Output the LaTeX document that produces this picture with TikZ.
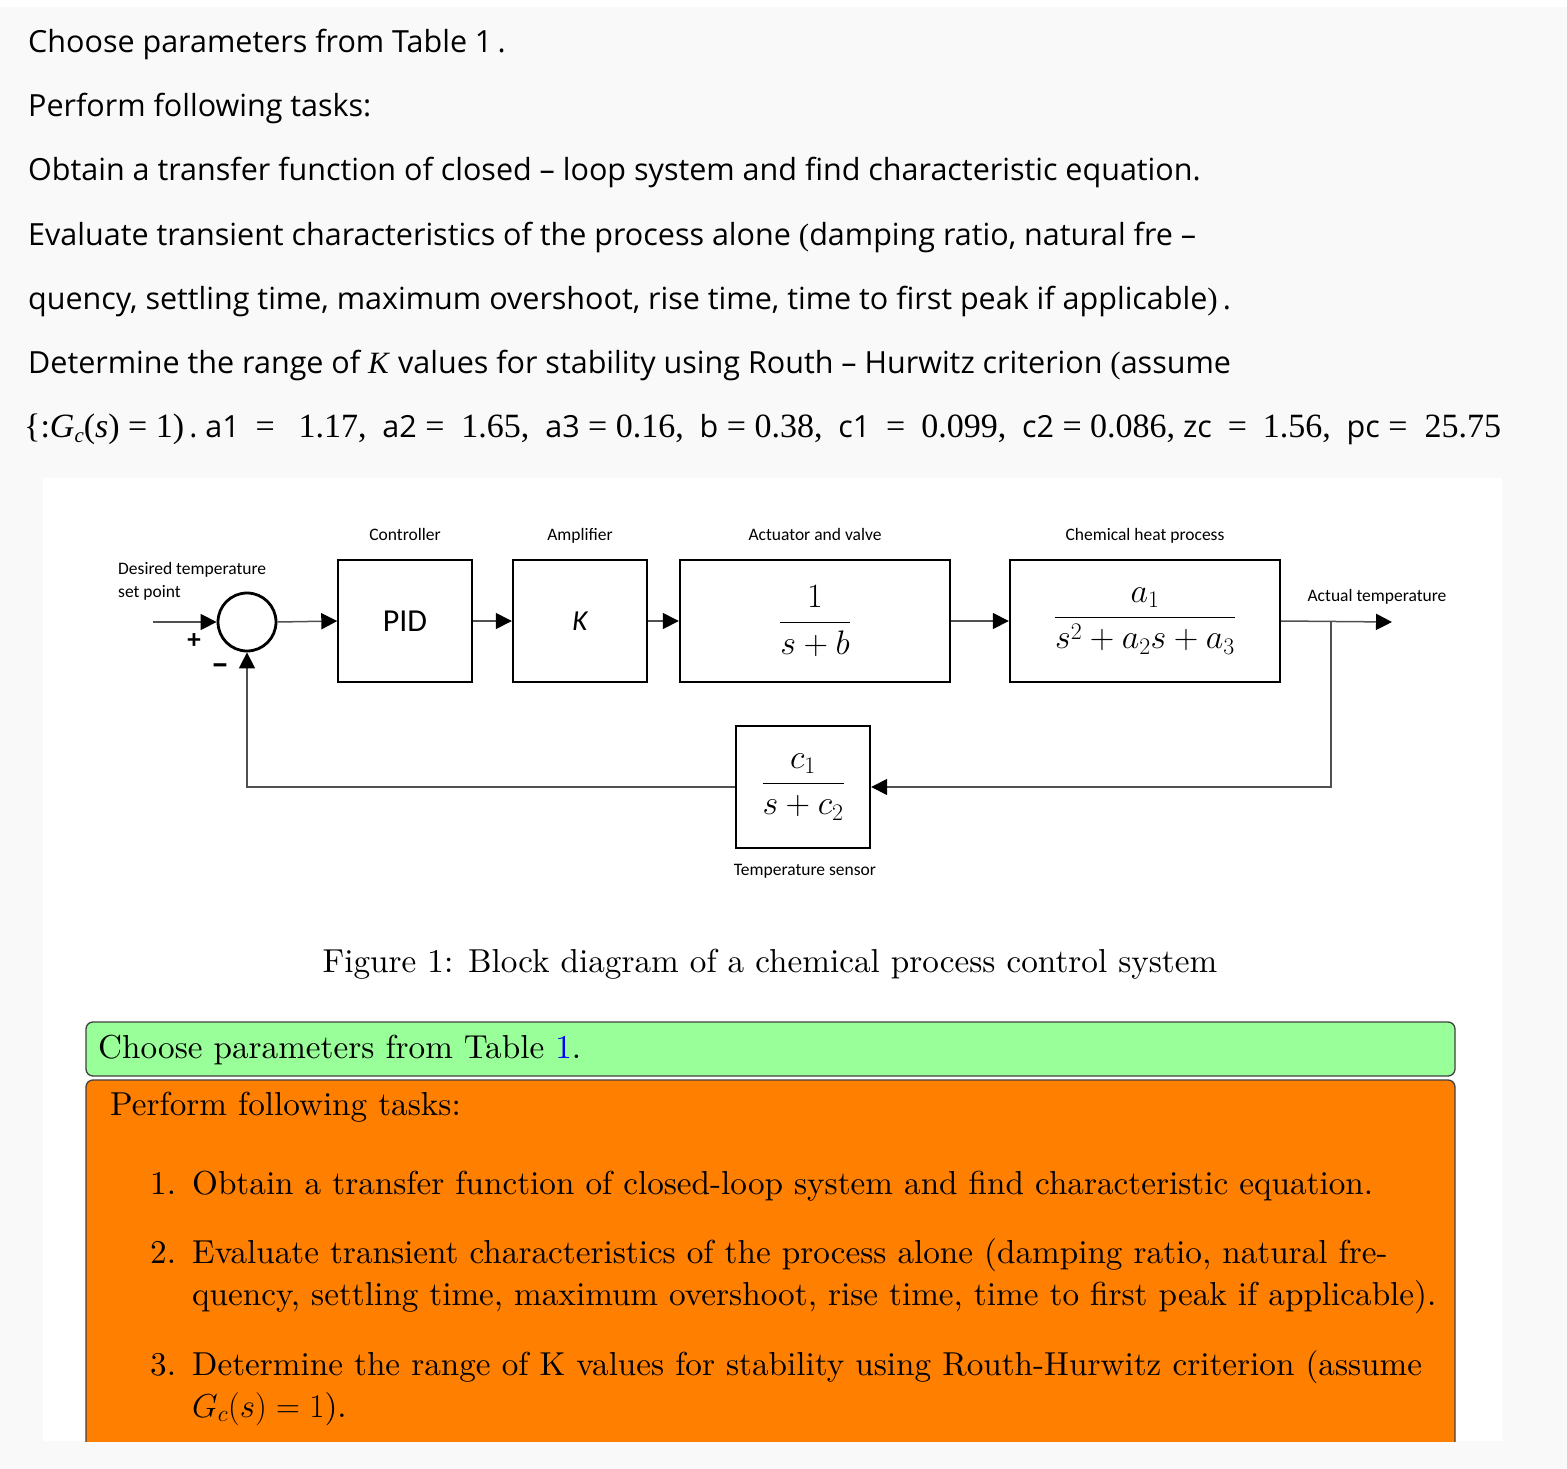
\RequirePackage{fix-cm}
\documentclass[tikz,border=0pt]{standalone}
\usepackage{fontspec}
\newfontfamily\sansfont{Open Sans}
\newfontfamily\calfont{Carlito}
\newfontfamily\tmsfont{Liberation Serif}
\newfontfamily\lmten[Extension=.otf,ItalicFont=lmroman10-italic]{lmroman10-regular}
\usetikzlibrary{arrows.meta}
\definecolor{pagegray}{HTML}{F9F9F9}
\definecolor{wiregray}{HTML}{505050}
\definecolor{taskgreen}{HTML}{99FF99}
\definecolor{taskorange}{HTML}{FF8000}
\newcommand{\tms}[1]{{\tmsfont\fontsize{31}{34}\selectfont #1}}
\newcommand{\tmn}[1]{{\tmsfont\fontsize{34}{36}\selectfont #1}}
\begin{document}
\begin{tikzpicture}[x=1pt,y=-1pt,
    topline/.style={anchor=base west,inner sep=0pt,font=\sansfont\fontsize{30.5}{34}\selectfont},
    lbl/.style={anchor=base,inner sep=0pt,font=\calfont\fontsize{17.5}{20}\selectfont},
    blk/.style={draw,line width=2.4pt,minimum height=122pt,inner sep=0pt},
    frac/.style={font=\fontsize{34}{40}\selectfont},
    wire/.style={draw=wiregray,line width=1.5pt,-{Triangle[length=16pt,width=16pt,color=black]}},
    boxtext/.style={anchor=base west,inner sep=0pt,font=\lmten\fontsize{33.2}{40}\selectfont},
    task/.style={draw=black!75,line width=1.3pt,rounded corners=7pt}]
\useasboundingbox (0,0) rectangle (1567,1469);
\fill[pagegray] (0,0) rectangle (1567,1469);
\fill[white] (0,0) rectangle (1567,7);
\fill[white] (43,478) rectangle (1502,1441);

\node[topline] (l1) at (28,53) {Choose parameters from Table 1\,.};
\node[topline] (l2) at (28,117) {Perform following tasks:};
\node[topline] (l3) at (28,181) {Obtain a transfer function of closed – loop system and find characteristic equation.};
\node[topline] (l4) at (28,245) {Evaluate transient characteristics of the process alone \tms{(}damping ratio, natural fre –};
\node[topline] (l5) at (28,309) {quency, settling time, maximum overshoot, rise time, time to first peak if applicable\tms{)}\,.};
\node[topline] (l6) at (28,373) {Determine the range of \tms{\textit{K}} values for stability using Routh – Hurwitz criterion \tms{(}assume};
\node[topline] (l7) at (24,437) {\tmn{\{:\textit{G}\raisebox{-5pt}{\fontsize{21}{21}\selectfont\textit{c}}(\textit{s}) = 1)}\,.\ a1\ \ \tmn{=}\ \ \ \tmn{1.17,}\ \ a2\tmn{ = \ 1.65,}\ \ a3\tmn{ = 0.16,}\ \ b\tmn{ = 0.38,}\ \ c1\ \ \tmn{=}\ \ \tmn{0.099,}\ \ c2\tmn{ = 0.086,}\ zc\ \ \tmn{=}\ \ \tmn{1.56,}\ \ pc\tmn{ = \ 25.75}};

\node[lbl] (tc) at (405,540) {Controller};
\node[lbl] (ta) at (580,540) {Amplifier};
\node[lbl] (tv) at (815,540) {Actuator and valve};
\node[lbl] (th) at (1145,540) {Chemical heat process};
\node[lbl,anchor=base west] (td) at (118,574) {Desired temperature};
\node[lbl,anchor=base west] (tp) at (118,597) {set point};
\node[lbl] (to) at (1377,601) {Actual temperature};
\node[lbl] (ts) at (805,875) {Temperature sensor};

\node[draw,circle,line width=2.8pt,minimum size=58pt,inner sep=0pt] (sum) at (247,622) {};
\node[blk,line width=1.4pt,minimum width=134pt,font=\calfont\fontsize{32}{34}\selectfont] (pid) at (405,621) {PID};
\node[blk,minimum width=134pt,font=\calfont\itshape\fontsize{29}{32}\selectfont] (amp) at (580,621) {K};
\node[blk,minimum width=270pt,frac] (act) at (815,621) {\raisebox{3pt}{$\displaystyle\frac{1}{s+b}$}};
\node[blk,minimum width=270pt,frac] (proc) at (1145,621) {\raisebox{3pt}{$\displaystyle\frac{a_1}{s^2+a_2s+a_3}$}};
\node[blk,minimum width=134pt,frac] (sens) at (803,787) {$\displaystyle\frac{c_1}{s+c_2}$};
\node[font=\calfont\bfseries\fontsize{27}{27}\selectfont] (plus) at (194,641) {+};
\node[font=\calfont\bfseries\fontsize{36}{36}\selectfont] (minus) at (220,670) {–};

\coordinate (in) at (153,622);
\coordinate (out) at (1392,622);
\coordinate (tap) at (1331,622);
\draw[wire] (in) -- (sum.west);
\draw[wire] (sum.east) -- (pid.west);
\draw[wire] (pid.east) -- (amp.west);
\draw[wire] (amp.east) -- (act.west);
\draw[wire] (act.east) -- (proc.west);
\draw[wire] (proc.east) -- (out);
\draw[wire] (tap) |- (sens.east);
\draw[wire] (sens.west) -| (sum.south);

\node[anchor=base,inner sep=0pt,font=\lmten\fontsize{33.2}{40}\selectfont] (cap) at (770,972) {Figure 1: Block diagram of a chemical process control system};

\draw[task,fill=taskgreen] (86,1022) rectangle (1455,1076);
\begin{scope}
\clip (0,1078) rectangle (1567,1441);
\draw[task,fill=taskorange] (86,1080) rectangle (1455,1480);
\end{scope}
\node[boxtext] (g1) at (98,1058) {Choose parameters from Table \textcolor{blue}{1}.};
\node[boxtext] (o0) at (110,1115) {Perform following tasks:};
\node[boxtext] (n1) at (150,1194) {1.};
\node[boxtext] (n2) at (150,1263) {2.};
\node[boxtext] (n3) at (150,1375) {3.};
\node[boxtext] (o1) at (192,1194) {Obtain a transfer function of closed-loop system and find characteristic equation.};
\node[boxtext] (o2) at (192,1263) {Evaluate transient characteristics of the process alone (damping ratio, natural fre-};
\node[boxtext] (o3) at (192,1305) {quency, settling time, maximum overshoot, rise time, time to first peak if applicable).};
\node[boxtext] (o4) at (192,1375) {Determine the range of K values for stability using Routh-Hurwitz criterion (assume};
\node[boxtext] (o5) at (192,1417) {$G_c(s)=1$).};
\end{tikzpicture}
\end{document}
